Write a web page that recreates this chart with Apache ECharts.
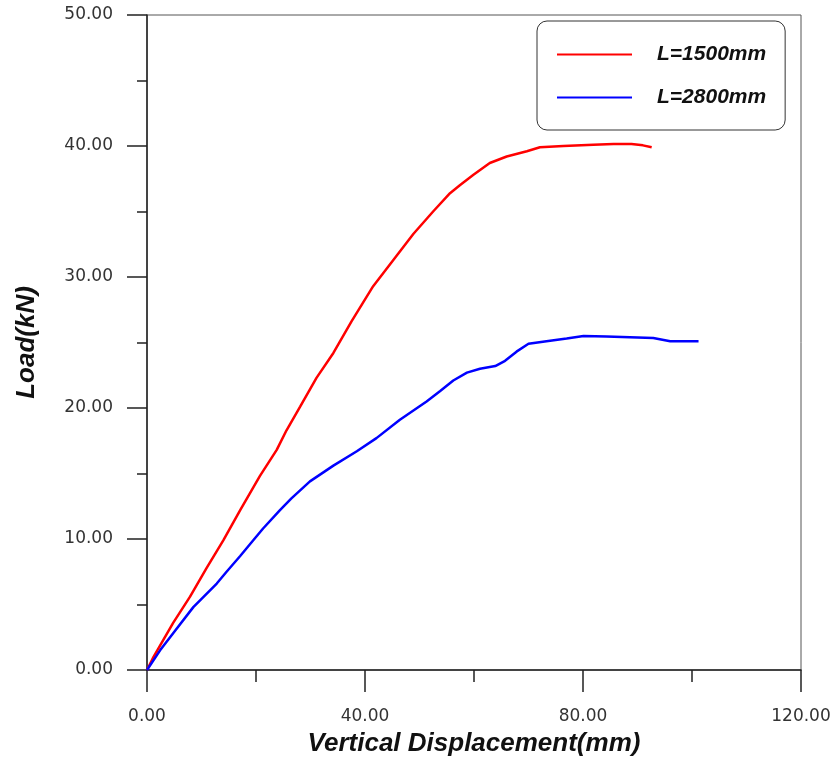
<!DOCTYPE html>
<html>
<head>
<meta charset="utf-8">
<script src="https://cdn.jsdelivr.net/npm/echarts@6/dist/echarts.min.js"></script>
<style>
  html, body { margin: 0; padding: 0; background: #fff; }
  #chart { width: 833px; height: 757px; }
</style>
</head>
<body>
<div id="chart"></div>
<script>
// Load–displacement curves for two member lengths
const seriesNames = ['L=1500mm', 'L=2800mm'];

const disp1500 = [0, 1.2, 3.0, 4.8, 7.9, 10.95, 14.0, 17.1, 20.7, 23.8, 25.6, 28.1, 31.1, 34.2, 37.5,
  41.5, 45.2, 48.9, 52.5, 55.6, 57.4, 59.9, 62.9, 66.0, 69.7, 72.1, 76.4, 81.9, 85.6, 88.9, 91.0, 92.6];
const load1500 = [0, 1.0, 2.3, 3.6, 5.6, 7.8, 9.9, 12.2, 14.8, 16.8, 18.3, 20.1, 22.3, 24.2, 26.6,
  29.3, 31.3, 33.3, 35.0, 36.4, 37.0, 37.8, 38.7, 39.2, 39.6, 39.9, 40.0, 40.1, 40.15, 40.15, 40.05, 39.9];

const disp2800 = [0, 2.4, 4.8, 8.5, 12.8, 14.6, 17.1, 19.5, 21.3, 24.4, 26.5, 29.9, 34.2, 38.5, 42.1,
  46.4, 51.3, 53.8, 56.2, 58.7, 61.1, 63.9, 65.7, 67.8, 70.0, 73.3, 77.0, 80.1, 84.3, 92.9, 96.0, 101.2];
const load2800 = [0, 1.5, 2.8, 4.8, 6.6, 7.5, 8.7, 9.9, 10.8, 12.2, 13.1, 14.4, 15.6, 16.7, 17.7,
  19.1, 20.5, 21.3, 22.1, 22.7, 23.0, 23.2, 23.6, 24.3, 24.9, 25.1, 25.3, 25.5, 25.45, 25.35, 25.1, 25.1];

const xAxisTitle = 'Vertical Displacement(mm)';
const yAxisTitle = 'Load(kN)';

const pairs = (xs, ys) => xs.map((x, i) => [x, ys[i]]);

const axisColor = '#222';
const labelFont = { fontFamily: 'DejaVu Sans', fontSize: 17, color: '#333' };
const titleFont = { fontFamily: 'Liberation Sans', fontSize: 26, fontWeight: 'bold', fontStyle: 'italic', color: '#111' };

const chart = echarts.init(document.getElementById('chart'), null, { renderer: 'canvas' });
chart.setOption({
  animation: false,
  backgroundColor: '#fff',
  grid: {
    left: 147, right: 32, top: 15, bottom: 87,
    containLabel: false, outerBoundsMode: 'none',
    show: true, borderColor: '#555', borderWidth: 1, backgroundColor: 'transparent'
  },
  legend: {
    left: 537, top: 21,
    orient: 'vertical',
    data: seriesNames,
    icon: 'rect',
    itemWidth: 75, itemHeight: 2,
    itemGap: 22,
    padding: [23, 19, 22, 20],
    borderColor: '#333', borderWidth: 1, borderRadius: 10,
    textStyle: {
      fontFamily: 'Liberation Sans', fontSize: 21, fontStyle: 'italic', fontWeight: 'bold',
      color: '#111', lineHeight: 20, padding: [0, 0, 0, 20]
    }
  },
  xAxis: {
    type: 'value', min: 0, max: 120, interval: 40,
    name: xAxisTitle, nameLocation: 'middle', nameGap: 61,
    nameTextStyle: titleFont,
    axisLine: { show: true, onZero: false, lineStyle: { color: axisColor, width: 1.5 } },
    axisTick: { show: true, inside: false, length: 22, lineStyle: { color: axisColor, width: 1.5 } },
    minorTick: { show: true, splitNumber: 2, length: 12, lineStyle: { color: axisColor, width: 1.5 } },
    splitLine: { show: false },
    axisLabel: Object.assign({ margin: 38, formatter: v => v.toFixed(2) }, labelFont)
  },
  yAxis: {
    type: 'value', min: 0, max: 50, interval: 10,
    name: yAxisTitle, nameLocation: 'middle', nameGap: 107,
    nameTextStyle: titleFont,
    axisLine: { show: true, onZero: false, lineStyle: { color: axisColor, width: 1.5 } },
    axisTick: { show: true, inside: false, length: 20, lineStyle: { color: axisColor, width: 1.5 } },
    minorTick: { show: true, splitNumber: 2, length: 10, lineStyle: { color: axisColor, width: 1.5 } },
    splitLine: { show: false },
    axisLabel: Object.assign({ margin: 34, formatter: v => v.toFixed(2) }, labelFont)
  },
  series: [
    {
      name: seriesNames[0], type: 'line', data: pairs(disp1500, load1500),
      showSymbol: false,
      color: '#ff0000', lineStyle: { width: 2.5, color: '#ff0000' }
    },
    {
      name: seriesNames[1], type: 'line', data: pairs(disp2800, load2800),
      showSymbol: false,
      color: '#0000ff', lineStyle: { width: 2.5, color: '#0000ff' }
    }
  ]
});
</script>
</body>
</html>
